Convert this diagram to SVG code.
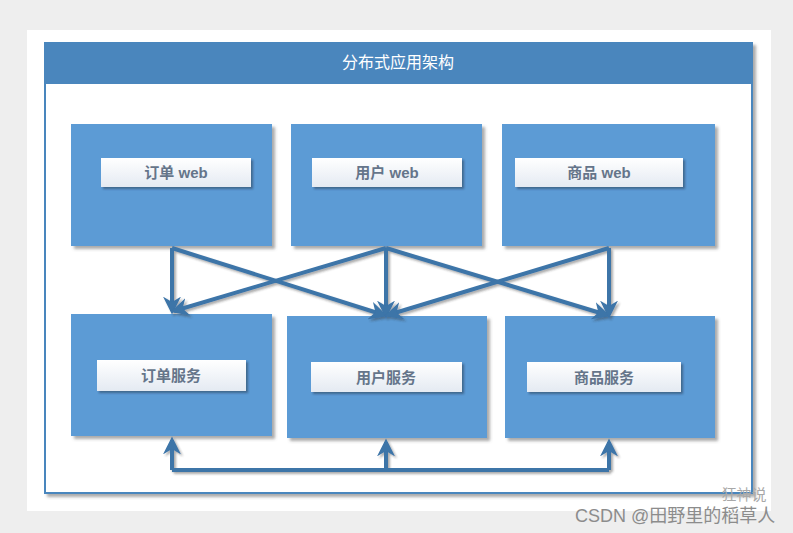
<svg xmlns="http://www.w3.org/2000/svg" width="793" height="533" viewBox="0 0 793 533">
<style>
.box{fill:#5b9bd5;filter:url(#sh)}
.lbl{fill:url(#lg);filter:url(#sh2)}
.t{font-family:"Liberation Sans","Noto Sans CJK SC",sans-serif;font-size:15px;fill:#65758a;text-anchor:middle;font-weight:bold}
.c{fill:none;stroke:#3c74a8;stroke-width:4;stroke-linejoin:round;marker-end:url(#ah)}
.l{fill:none;stroke:#3c74a8;stroke-width:4;stroke-linejoin:round}
</style>
<defs>
<linearGradient id="lg" x1="0" y1="0" x2="0" y2="1">
<stop offset="0" stop-color="#ffffff"/>
<stop offset="1" stop-color="#e4eaf2"/>
</linearGradient>
<filter id="sh" x="-10%" y="-10%" width="130%" height="130%">
<feDropShadow dx="3" dy="3" stdDeviation="1.5" flood-color="#555" flood-opacity="0.5"/>
</filter>
<filter id="sh2" x="-10%" y="-20%" width="130%" height="160%">
<feDropShadow dx="2" dy="2" stdDeviation="1.2" flood-color="#234" flood-opacity="0.5"/>
</filter>
<filter id="sh3" x="-10%" y="-10%" width="130%" height="130%">
<feDropShadow dx="2" dy="2" stdDeviation="1" flood-color="#333" flood-opacity="0.4"/>
</filter>
<marker id="ah" viewBox="0 0 10 10" refX="8" refY="5" markerWidth="4.5" markerHeight="4.5" orient="auto" markerUnits="strokeWidth">
<path d="M0,0 L10,5 L0,10 L3,5 z" fill="#3c74a8"/>
</marker>
</defs>
<rect x="0" y="0" width="793" height="533" fill="#eeeeee"/>
<rect x="27" y="30" width="744" height="481" fill="#ffffff"/>
<g id="frame">
<rect x="45" y="43" width="707" height="450" fill="#ffffff" stroke="#4a86bd" stroke-width="2" filter="url(#sh)"/>
<rect x="45" y="43" width="707" height="41" fill="#4a86bd"/>
<text x="398" y="68" font-family="'Noto Sans CJK SC',sans-serif" font-size="16" fill="#ffffff" text-anchor="middle">分布式应用架构</text>
</g>
<g id="order-web">
<rect class="box" x="71" y="124" width="201" height="122"/>
<rect class="lbl" x="101" y="158" width="150" height="29"/>
<text class="t" x="176" y="178">订单 web</text>
</g>
<g id="user-web">
<rect class="box" x="291" y="124" width="191" height="122"/>
<rect class="lbl" x="312" y="158" width="150" height="29"/>
<text class="t" x="387" y="178">用户 web</text>
</g>
<g id="goods-web">
<rect class="box" x="502" y="124" width="213" height="122"/>
<rect class="lbl" x="515" y="158" width="168" height="29"/>
<text class="t" x="599" y="178">商品 web</text>
</g>
<g id="order-svc">
<rect class="box" x="71" y="314" width="201" height="122"/>
<rect class="lbl" x="97" y="360" width="149" height="31"/>
<text class="t" x="171" y="381">订单服务</text>
</g>
<g id="user-svc">
<rect class="box" x="287" y="316" width="200" height="122"/>
<rect class="lbl" x="311" y="362" width="151" height="30"/>
<text class="t" x="386" y="383">用户服务</text>
</g>
<g id="goods-svc">
<rect class="box" x="505" y="316" width="210" height="122"/>
<rect class="lbl" x="527" y="362" width="154" height="30"/>
<text class="t" x="604" y="383">商品服务</text>
</g>
<g id="connectors" filter="url(#sh3)">
<path class="c" d="M172,248 L172,311"/>
<path class="c" d="M172,248 L384,315"/>
<path class="c" d="M386,248 L174,311"/>
<path class="c" d="M386,248 L386,315"/>
<path class="c" d="M386,248 L607,315"/>
<path class="c" d="M609,248 L388,315"/>
<path class="c" d="M609,248 L609,315"/>
<path class="l" d="M172,470 L609,470"/>
<path class="c" d="M172,470 L172,440"/>
<path class="c" d="M386,470 L386,442"/>
<path class="c" d="M609,470 L609,442"/>
</g>
<g id="watermark" font-family="'Liberation Sans','Noto Sans CJK SC',sans-serif">
<text x="744" y="500" font-size="15" fill="#a8a8a8" text-anchor="middle">狂神说</text>
<text x="575" y="522" font-size="18" fill="#8c8c8c">CSDN @田野里的稻草人</text>
</g>
</svg>
